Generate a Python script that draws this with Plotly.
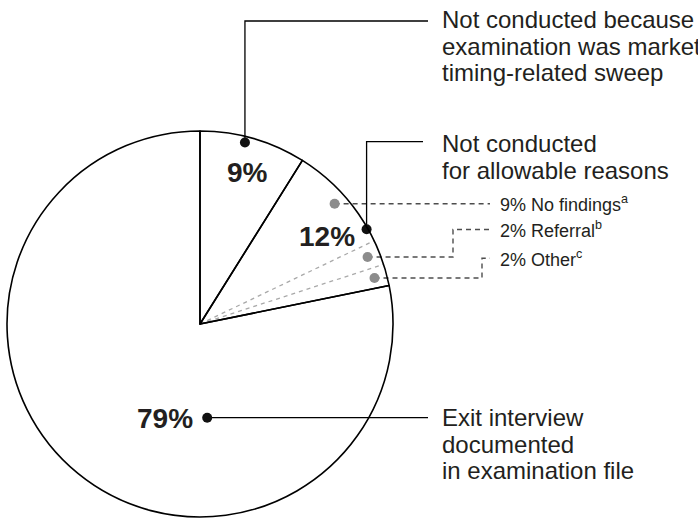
import math
import plotly.graph_objects as go

# ---------------- data ----------------
main_labels = ["9%", "12%", "79%"]
main_values = [8.9, 12.9, 78.2]
main_text = [
    ["Not conducted because", "examination was market", "timing-related sweep"],
    ["Not conducted", "for allowable reasons"],
    ["Exit interview", "documented", "in examination file"],
]
sub_labels = ["9% No findings", "2% Referral", "2% Other"]
sub_notes = ["a", "b", "c"]
sub_values = [9.0, 2.1, 1.8]   # breakdown of the 12% slice

# ---------------- layout constants ----------------
W, H = 698, 518
CX, CY, R = 200, 324, 193
TEXT = "#231f20"
FONT = "Liberation Sans"

# anchors of the black dots / percentage labels (fraction along slice, fraction of radius)
dot_anchor = [(0.434, 0.969), (0.61, 0.993), (0.345, 0.487)]
pct_anchor = [(0.537, 0.824), (0.50, 0.80), (0.433, 0.52)]
# leader routing for main labels
lead_y = [21, 141.7, None]
lead_end_x = [428, 423, 428]
text_x = 440
text_lines_y = [[19.7, 46.2, 72.7], [143.4, 170.0], [417.5, 444.0, 470.5]]
# sub-label routing
sub_elbow_x = [None, 453, 482]
sub_text_y = [None, 229.5, 258.3]
sub_end_x = 490
sub_text_x = 498
sub_dot_r = 0.935


def cum_start(vals, i):
    return sum(vals[:i])


def polar(pct, rfrac):
    a = math.radians(pct * 3.6)
    return CX + rfrac * R * math.sin(a), CY - rfrac * R * math.cos(a)


fig = go.Figure()

# ---- gray dashed sub-slice boundaries inside the 12% slice ----
base = main_values[0]
for k in range(1, len(sub_values)):
    p = base + sum(sub_values[:k])
    x1, y1 = polar(p, 1.0)
    fig.add_trace(go.Scatter(x=[CX, x1], y=[CY, y1], mode="lines",
                             line=dict(color="#a9a9a9", width=1.3, dash="4px,4px"),
                             hoverinfo="skip", showlegend=False))

# ---- sub-slice gray dots and dashed leaders ----
for k, v in enumerate(sub_values):
    mid = base + sum(sub_values[:k]) + v / 2
    dx, dy = polar(mid, sub_dot_r)
    if sub_elbow_x[k] is None:
        ty = dy
        xs, ys = [dx, sub_end_x], [dy, dy]
    else:
        ty = sub_text_y[k]
        ex = sub_elbow_x[k]
        xs, ys = [dx, ex, ex, sub_end_x], [dy, dy, ty, ty]
    fig.add_trace(go.Scatter(x=xs, y=ys, mode="lines",
                             line=dict(color="#4d4d4d", width=1.4, dash="5px,4px"),
                             hoverinfo="skip", showlegend=False))
    fig.add_trace(go.Scatter(x=[dx], y=[dy], mode="markers",
                             marker=dict(color="#8c8c8c", size=10),
                             hoverinfo="skip", showlegend=False))
    fig.add_annotation(x=sub_text_x, y=ty, xref="x", yref="y",
                       text=f"{sub_labels[k]}<sup>{sub_notes[k]}</sup>",
                       showarrow=False, xanchor="left", yanchor="middle",
                       font=dict(family=FONT, size=18, color=TEXT))

# ---- main slice dots, leaders, labels ----
for i, v in enumerate(main_values):
    s = cum_start(main_values, i)
    fa, fr = dot_anchor[i]
    dx, dy = polar(s + fa * v, fr)
    if lead_y[i] is None:
        xs, ys = [dx, lead_end_x[i]], [dy, dy]
    else:
        xs, ys = [dx, dx, lead_end_x[i]], [dy, lead_y[i], lead_y[i]]
    fig.add_trace(go.Scatter(x=xs, y=ys, mode="lines",
                             line=dict(color="#000000", width=1.3),
                             hoverinfo="skip", showlegend=False))
    fig.add_trace(go.Scatter(x=[dx], y=[dy], mode="markers",
                             marker=dict(color="#111111", size=10),
                             hoverinfo="skip", showlegend=False))
    pa, pr = pct_anchor[i]
    px, py = polar(s + pa * v, pr)
    fig.add_annotation(x=px, y=py, xref="x", yref="y", text=main_labels[i],
                       showarrow=False, xanchor="center", yanchor="middle",
                       font=dict(family=FONT, size=28, color=TEXT, weight="bold"))
    for line, ly in zip(main_text[i], text_lines_y[i]):
        fig.add_annotation(x=text_x, y=ly, xref="x", yref="y", text=line,
                           showarrow=False, xanchor="left", yanchor="middle",
                           font=dict(family=FONT, size=24, color=TEXT))

# ---- the pie itself (transparent fill, black outlines) ----
fig.add_trace(go.Pie(
    values=main_values, labels=main_labels, sort=False, direction="clockwise",
    rotation=0, textinfo="none", hoverinfo="skip", showlegend=False,
    marker=dict(colors=["rgba(0,0,0,0)"] * 3, line=dict(color="#000000", width=1.6)),
    domain=dict(x=[(CX - R) / W, (CX + R) / W],
                y=[(H - CY - R) / H, (H - CY + R) / H]),
))

fig.update_layout(
    width=W, height=H, margin=dict(l=0, r=0, t=0, b=0),
    paper_bgcolor="white", plot_bgcolor="rgba(0,0,0,0)",
    xaxis=dict(range=[0, W], visible=False, fixedrange=True),
    yaxis=dict(range=[H, 0], visible=False, fixedrange=True),
    showlegend=False,
)

fig.write_html("out.html", config={"displayModeBar": False},
               post_script="document.body.style.margin='0';document.body.style.overflow='hidden';")
